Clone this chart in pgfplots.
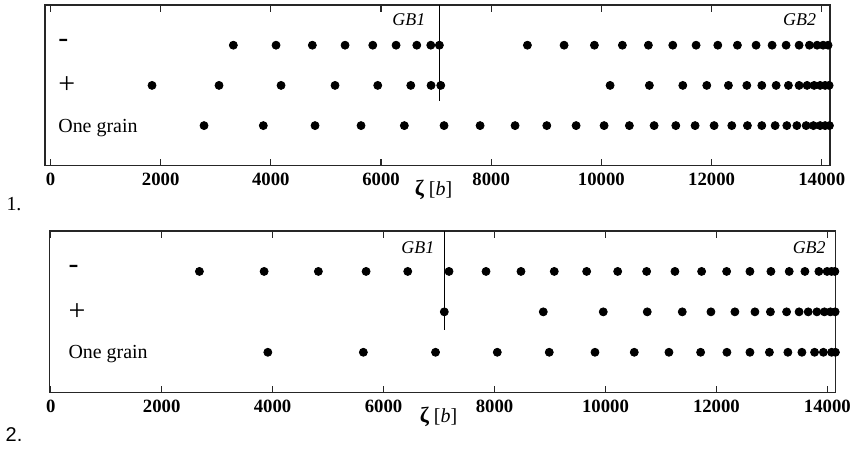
\documentclass[border=0pt]{standalone}
\usepackage{pgfplots}
\pgfplotsset{compat=1.18}
\usepackage{fontspec}
\setmainfont{Liberation Serif}
\newfontfamily\helv{Liberation Sans}
\begin{document}
\begin{tikzpicture}
\useasboundingbox (0,0) rectangle (425bp,-225bp);
\pgfplotsset{
  gbstyle/.style={
    scale only axis, ymin=0, ymax=4, ytick=\empty,
    xtick={0,2000,...,14000},
    scaled x ticks=false,
    xticklabel style={font=\bfseries\fontsize{9.4}{10}\selectfont, /pgf/number format/1000 sep={}, /pgf/number format/assume math mode=true},
    tick align=inside, major tick length=3.5bp,
    axis line style={line width=0.7pt, black!85},
    xtick style={line width=0.6pt, black!85},
    clip=false,
    xlabel={{\bfseries\fontsize{11}{11}\selectfont ζ} [\textit{b}]},
    xlabel style={at={(axis description cs:0.495,0)}, anchor=center, yshift=-12bp, font=\fontsize{10}{10}\selectfont},
  },
  dots/.style={only marks, mark=*, mark size=2bp, black},
}
% ---------------- Panel 1 ----------------
\begin{axis}[gbstyle, at={(22.5bp,-2.5bp)}, anchor=north west,
  width=392.5bp, height=80.4bp, xmin=-100, xmax=14150]
\addplot[dots] coordinates {
 (3319,3) (4094,3) (4753,3) (5347,3) (5850,3) (6273,3) (6649,3) (6903,3) (7059,3)
 (8657,3) (9323,3) (9873,3) (10381,3) (10853,3) (11296,3) (11719,3) (12113,3)
 (12469,3) (12808,3) (13099,3) (13353,3) (13589,3) (13776,3) (13916,3) (14025,3) (14115,3)
};
\addplot[dots] coordinates {
 (1843,2) (3059,2) (4185,2) (5165,2) (5940,2) (6540,2) (6908,2) (7084,2)
 (10158,2) (10871,2) (11478,2) (11913,2) (12306,2) (12640,2) (12912,2) (13172,2)
 (13395,2) (13589,2) (13734,2) (13862,2) (13971,2) (14061,2) (14134,2)
};
\addplot[dots] coordinates {
 (2787,1) (3863,1) (4802,1) (5637,1) (6423,1) (7144,1) (7798,1) (8433,1) (9009,1)
 (9541,1) (10049,1) (10508,1) (10957,1) (11351,1) (11701,1) (12046,1) (12367,1)
 (12651,1) (12912,1) (13154,1) (13366,1) (13548,1) (13717,1) (13849,1) (13971,1)
 (14061,1) (14140,1)
};
\addplot[black, line width=0.5pt] coordinates {(7059,4) (7059,1.6)};
\node[anchor=east, font=\itshape\fontsize{9}{9}\selectfont, xshift=-3.5bp] at (axis cs:7059,3.625) {GB1};
\node[anchor=east, font=\itshape\fontsize{9}{9}\selectfont, xshift=-3.5bp] at (axis cs:14150,3.625) {GB2};
\node[anchor=west, font=\fontsize{15}{15}\selectfont, inner sep=0pt] at (axis cs:136,3.05) {-};
\node[anchor=west, font=\fontsize{15}{15}\selectfont, inner sep=0pt] at (axis cs:136,2) {+};
\node[anchor=west, font=\fontsize{10}{10}\selectfont, inner sep=0pt, yshift=-1bp] at (axis cs:136,1) {One grain};
\end{axis}
% ---------------- Panel 2 ----------------
\begin{axis}[gbstyle, at={(24.65bp,-115.5bp)}, anchor=north west,
  width=393.2bp, height=80.85bp, xmin=-25, xmax=14150]
\addplot[dots] coordinates {
 (2681,3) (3847,3) (4825,3) (5685,3) (6436,3) (7180,3) (7847,3) (8477,3) (9077,3)
 (9661,3) (10220,3) (10742,3) (11252,3) (11733,3) (12184,3) (12604,3) (12982,3)
 (13312,3) (13595,3) (13847,3) (13995,3) (14075,3) (14135,3)
};
\addplot[dots] coordinates {
 (7095,2) (8879,2) (9960,2) (10753,2) (11384,2) (11901,2) (12333,2) (12694,2)
 (12973,2) (13265,2) (13490,2) (13654,2) (13811,2) (13946,2) (14054,2) (14140,2)
};
\addplot[dots] coordinates {
 (3914,1) (5636,1) (6937,1) (8050,1) (8987,1) (9811,1) (10519,1) (11144,1)
 (11715,1) (12189,1) (12604,1) (12955,1) (13288,1) (13541,1) (13769,1) (13928,1)
 (14076,1) (14145,1)
};
\addplot[black, line width=0.5pt] coordinates {(7095,4) (7095,1.55)};
\node[anchor=east, font=\itshape\fontsize{9}{9}\selectfont, xshift=-1.5bp] at (axis cs:7095,3.585) {GB1};
\node[anchor=east, font=\itshape\fontsize{9}{9}\selectfont, xshift=-1.5bp] at (axis cs:14150,3.585) {GB2};
\node[anchor=west, font=\fontsize{15}{15}\selectfont, inner sep=0pt] at (axis cs:315,3.05) {-};
\node[anchor=west, font=\fontsize{15}{15}\selectfont, inner sep=0pt] at (axis cs:315,2) {+};
\node[anchor=west, font=\fontsize{10}{10}\selectfont, inner sep=0pt, yshift=-1bp] at (axis cs:315,1) {One grain};
\end{axis}
\node[font=\fontsize{10}{10}\selectfont] at (7bp,-102bp) {1.};
\node[font=\helv\fontsize{10}{10}\selectfont] at (7bp,-217.5bp) {2.};
\end{tikzpicture}
\end{document}
